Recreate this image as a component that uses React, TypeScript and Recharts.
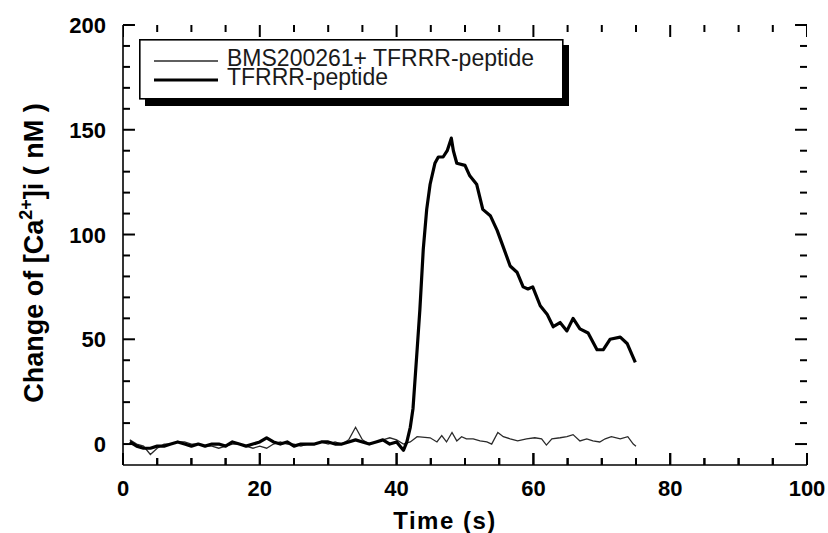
import React from 'react';
import { LineChart, Line, XAxis, YAxis, Legend, ReferenceLine } from 'recharts';

const FONT = '"Liberation Sans", Arial, Helvetica, sans-serif';

const xTicks = [0, 5, 10, 15, 20, 25, 30, 35, 40, 45, 50, 55, 60, 65, 70, 75, 80, 85, 90, 95, 100];
const xLabelTicks = [0, 20, 40, 60, 80, 100];
const yTicks = [0, 10, 20, 30, 40, 50, 60, 70, 80, 90, 100, 110, 120, 130, 140, 150, 160, 170, 180, 190, 200];
const yLabelTicks = [0, 50, 100, 150, 200];

const seriesNames = ['BMS200261+ TFRRR-peptide', 'TFRRR-peptide'];

const bmsTime = [
  1, 2, 3, 4, 5, 6, 7, 8, 9, 10, 11, 12, 13, 14, 15, 16, 17, 18, 19, 20,
  21, 22, 23, 24, 25, 26, 27, 28, 29, 30, 31, 32, 33, 34, 35, 36, 37, 38, 39, 40,
  41, 42, 43, 44.9, 45.9, 46.6, 47.3, 48.1, 48.8, 49.5, 50.2, 51.2, 52.2, 53.2, 53.9, 54.8,
  55.6, 56.6, 57.7, 59, 60.2, 61.2, 61.9, 62.7, 63.9, 64.9, 65.8, 66.8, 67.8, 68.7, 69.7,
  70.5, 71.4, 72.7, 73.8, 74.6, 75,
];
const bmsValue = [
  2, 0, -1, -5, -2, 0, 0, 1, 1, 0, 0, -1, -1, -2, -1, 0, 0, -1, -2, -1,
  -2, 0, 1, 0, 0, -1, 0, 0, 1, 0, 1, 0, 2, 8, 2, 0, 1, 2, 3, 2,
  0, 1, 3.5, 3, 1, 4, 1, 5.5, 1.5, 3.5, 2.5, 2.5, 1.5, 1, 0, 5.5,
  3.5, 2.5, 1.5, 2.5, 3, 2.5, -0.5, 2.5, 3, 3.5, 4.5, 1.5, 2.5, 1.5, 1,
  2.5, 3.5, 2.5, 3.5, 0, -1,
];

const tfrrrTime = [
  1, 2, 3, 4, 5, 6, 7, 8, 9, 10, 11, 12, 13, 14, 15, 16, 17, 18, 19, 20,
  21, 22, 23, 24, 25, 26, 27, 28, 29, 30, 31, 32, 33, 34, 35, 36, 37, 38, 39, 40,
  41, 41.5, 42, 42.4, 43, 43.4, 43.9, 44.4, 44.9, 45.6, 46.1, 46.8, 47.4, 48, 48.3, 48.8,
  50, 50.7, 51.7, 52.6, 53.7, 54.7, 55.6, 56.6, 57.6, 58.5, 59.2, 59.9, 61, 62, 62.9,
  63.9, 64.9, 65.8, 66.8, 68, 69.3, 70.2, 71.2, 72.7, 73.7, 74.9,
];
const tfrrrValue = [
  1, -1, -2, -2, -1, -1, 0, 1, 0, -1, 0, -1, 0, 0, -1, 1, 0, -1, 0, 1,
  3, 1, 0, 1, -1, 0, 0, 0, 1, 1, 0, 0, 1, 2, 1, 0, 1, 2, 0, 1,
  -3, 1, 8, 17, 45, 64, 93, 112, 124, 134, 137, 137, 140, 146, 140, 134,
  133, 128, 124, 112, 109, 102, 94, 85, 82, 75, 74, 75, 66, 62, 56,
  58, 54, 60, 55, 53, 45, 45, 50, 51, 48, 39,
];

const bmsData = bmsTime.map((t, i) => ({ t, v: bmsValue[i] }));
const tfrrrData = tfrrrTime.map((t, i) => ({ t, v: tfrrrValue[i] }));

const X_DOMAIN: [number, number] = [0, 100];
const Y_DOMAIN: [number, number] = [-10, 200];
// tick-mark lengths in data units (about 7px minor, 12px major)
const X_TICK_MINOR = 1.02;
const X_TICK_MAJOR = 1.75;
const Y_TICK_MINOR = 3.34;
const Y_TICK_MAJOR = 5.73;
const TICK_MINOR_PX = 7;
const TICK_MAJOR_PX = 12;
const TICK_W = 2;

// inward tick marks on the bottom and top frame edges, as broken segments
const xTickMarks = xTicks.flatMap((t) => {
  const len = xLabelTicks.includes(t) ? Y_TICK_MAJOR : Y_TICK_MINOR;
  return [
    { t, v: Y_DOMAIN[0] },
    { t, v: Y_DOMAIN[0] + len },
    { t, v: null },
    { t, v: Y_DOMAIN[1] },
    { t, v: Y_DOMAIN[1] - len },
    { t, v: null },
  ];
});

const seriesStyles = [
  { stroke: '#2a2a2a', width: 1.3 },
  { stroke: '#000000', width: 3.2 },
];

const BottomTick = (props: any) => {
  const { x, y, payload } = props;
  const v = payload.value;
  const major = xLabelTicks.includes(v);
  const len = major ? TICK_MAJOR_PX : TICK_MINOR_PX;
  return (
    <g>
      <rect x={x - TICK_W / 2} y={y - len} width={TICK_W} height={len} fill="#000" />
      {major && (
        <text x={x} y={y + 31} textAnchor="middle" fontFamily={FONT} fontWeight="bold" fontSize={22} fill="#000">
          {v}
        </text>
      )}
    </g>
  );
};

const TopTick = (props: any) => {
  const { x, y, payload } = props;
  const major = xLabelTicks.includes(payload.value);
  const len = major ? TICK_MAJOR_PX : TICK_MINOR_PX;
  return <rect x={x - TICK_W / 2} y={y} width={TICK_W} height={len} fill="#000" />;
};

const LeftLabel = (props: any) => {
  const { x, y, payload } = props;
  const v = payload.value;
  if (!yLabelTicks.includes(v)) return <g />;
  return (
    <text x={x - 17} y={y + 8} textAnchor="end" fontFamily={FONT} fontWeight="bold" fontSize={22} fill="#000">
      {v}
    </text>
  );
};

const XTitle = (props: any) => {
  const vb = props.viewBox || { x: 123, y: 465, width: 684, height: 68 };
  return (
    <text
      x={vb.x + vb.width / 2 - 20}
      y={vb.y + 64}
      textAnchor="middle"
      fontFamily={FONT}
      fontWeight="bold"
      fontSize={24}
      letterSpacing={1.5}
      fill="#000"
    >
      Time (s)
    </text>
  );
};

const YTitle = (props: any) => {
  const vb = props.viewBox || { x: 0, y: 25, width: 123, height: 440 };
  const cx = vb.x + 43;
  const cy = vb.y + vb.height / 2 + 8;
  return (
    <text
      x={cx}
      y={cy}
      transform={`rotate(-90, ${cx}, ${cy})`}
      textAnchor="middle"
      fontFamily={FONT}
      fontWeight="bold"
      fontSize={27}
      fill="#000"
    >
      <tspan>Change of [Ca</tspan>
      <tspan dy={-11} fontSize={18}>2+</tspan>
      <tspan dy={11}>]i ( nM )</tspan>
    </text>
  );
};

const LegendBox = () => (
  <svg width={440} height={70} style={{ display: 'block' }}>
    <rect x={6} y={6} width={424} height={61} fill="#000" />
    <rect x={0.8} y={0.8} width={423} height={59} fill="#fff" stroke="#000" strokeWidth={1.6} />
    {seriesNames.map((name, i) => (
      <g key={name}>
        <line
          x1={15}
          x2={79}
          y1={22 + i * 19}
          y2={22 + i * 19}
          stroke={seriesStyles[i].stroke}
          strokeWidth={i === 0 ? 1.6 : 3}
        />
        <text x={88} y={27 + i * 19} fontFamily={FONT} fontSize={23} fill="#1a1a1a">
          {name}
        </text>
      </g>
    ))}
  </svg>
);

const tickStroke = { stroke: '#000', strokeWidth: TICK_W };

export default function App() {
  const yTickLines = yTicks.flatMap((v) => {
    const len = yLabelTicks.includes(v) ? X_TICK_MAJOR : X_TICK_MINOR;
    return [
      <ReferenceLine
        key={`yl${v}`}
        segment={[{ x: X_DOMAIN[0], y: v }, { x: X_DOMAIN[0] + len, y: v }]}
        {...tickStroke}
        ifOverflow="visible"
      />,
      <ReferenceLine
        key={`yr${v}`}
        segment={[{ x: X_DOMAIN[1], y: v }, { x: X_DOMAIN[1] - len, y: v }]}
        {...tickStroke}
        ifOverflow="visible"
      />,
    ];
  });

  return (
    <div style={{ position: 'absolute', left: 0, top: 0, width: 828, height: 533, background: '#fff' }}>
      <LineChart width={828} height={533} margin={{ top: 25, right: 21, bottom: 0, left: 0 }}>
        <XAxis
          dataKey="t"
          type="number"
          domain={X_DOMAIN}
          ticks={xTicks}
          interval={0}
          tickSize={0}
          tickMargin={0}
          tickLine={false}
          height={68}
          axisLine={{ stroke: '#000', strokeWidth: 1.6 }}
          tick={(p: any) => <BottomTick {...p} />}
          allowDataOverflow
          label={(p: any) => <XTitle {...p} />}
        />
        <XAxis
          xAxisId="top"
          orientation="top"
          dataKey="t"
          type="number"
          domain={X_DOMAIN}
          ticks={xTicks}
          interval={0}
          tickSize={0}
          tickMargin={0}
          tickLine={false}
          height={0}
          axisLine={{ stroke: '#000', strokeWidth: 1.6 }}
          tick={(p: any) => <TopTick {...p} />}
          allowDataOverflow
        />
        <YAxis
          type="number"
          domain={Y_DOMAIN}
          ticks={yTicks}
          interval={0}
          tickSize={0}
          tickMargin={0}
          tickLine={false}
          width={123}
          axisLine={{ stroke: '#000', strokeWidth: 1.6 }}
          tick={(p: any) => <LeftLabel {...p} />}
          allowDataOverflow
          label={(p: any) => <YTitle {...p} />}
        />
        <YAxis
          yAxisId="right"
          orientation="right"
          type="number"
          domain={Y_DOMAIN}
          tick={false}
          tickLine={false}
          width={0}
          axisLine={{ stroke: '#000', strokeWidth: 1.6 }}
          allowDataOverflow
        />
        {yTickLines}
        <Legend
          layout="horizontal"
          verticalAlign="middle"
          align="center"
          content={() => <LegendBox />}
          wrapperStyle={{ position: 'absolute', left: 139, top: 39, width: 440, height: 70 }}
        />
        <Line
          data={xTickMarks}
          dataKey="v"
          name="x-ticks"
          legendType="none"
          type="linear"
          stroke="#000"
          strokeWidth={TICK_W}
          strokeLinecap="butt"
          connectNulls={false}
          dot={false}
          activeDot={false}
          isAnimationActive={false}
        />
        <Line
          data={bmsData}
          dataKey="v"
          name={seriesNames[0]}
          type="linear"
          stroke={seriesStyles[0].stroke}
          strokeWidth={seriesStyles[0].width}
          dot={false}
          isAnimationActive={false}
        />
        <Line
          data={tfrrrData}
          dataKey="v"
          name={seriesNames[1]}
          type="linear"
          stroke={seriesStyles[1].stroke}
          strokeWidth={seriesStyles[1].width}
          strokeLinejoin="round"
          dot={false}
          isAnimationActive={false}
        />
      </LineChart>
    </div>
  );
}
